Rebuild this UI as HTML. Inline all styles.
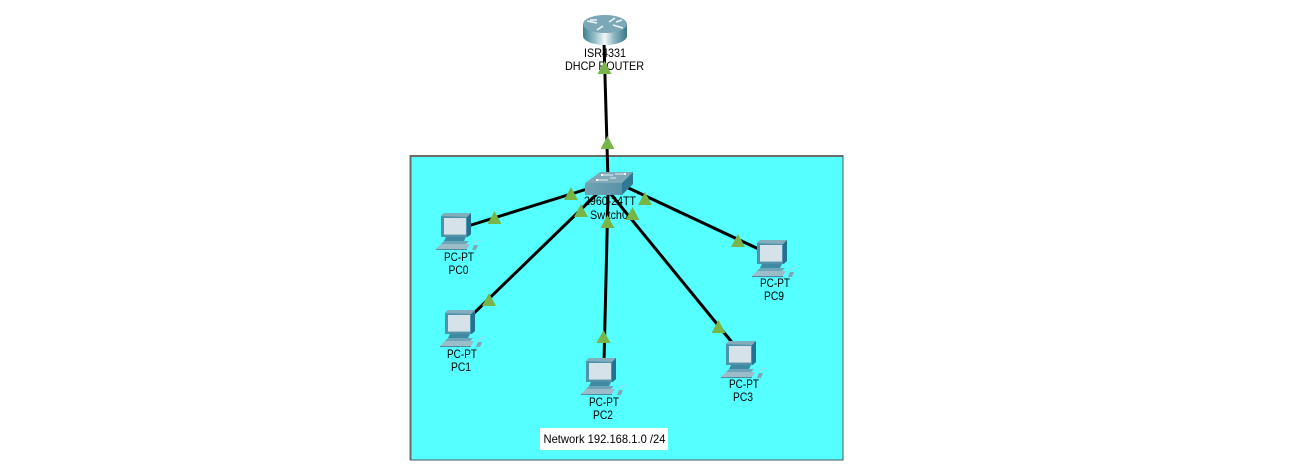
<!DOCTYPE html>
<html><head><meta charset="utf-8">
<style>
html,body{margin:0;padding:0;background:#fff;width:1306px;height:470px;overflow:hidden}
svg{display:block}
text{font-family:"Liberation Sans",sans-serif;font-size:12px;fill:#000;text-anchor:middle}
</style></head>
<body>
<svg width="1306" height="470" viewBox="0 0 1306 470" xmlns="http://www.w3.org/2000/svg">
<defs>
<linearGradient id="rb" x1="0" x2="1" y1="0" y2="0">
<stop offset="0" stop-color="#3f7f90"/><stop offset=".3" stop-color="#9fc6cf"/><stop offset=".5" stop-color="#f2f8f9"/><stop offset=".7" stop-color="#8db8c3"/><stop offset="1" stop-color="#3a7687"/>
</linearGradient>
<linearGradient id="sf" x1="0" x2="1" y1="0" y2="0">
<stop offset="0" stop-color="#6fa3b5"/><stop offset="1" stop-color="#5a92a6"/>
</linearGradient>
<g id="pc">
<polygon points="441,216 444,213 471,213 471,234 468,237 441,237" fill="#4f93ab"/>
<polygon points="467,217 471,213 471,234 467,237" fill="#1f7390"/>
<polygon points="441,216 444,213 471,213 467,217" fill="#82adbc"/>
<rect x="444" y="218" width="22" height="16" fill="#d6e2ea"/>
<rect x="444" y="234" width="22" height="1" fill="#9fc0cd"/>
<polygon points="446,237 466,237 464,241 444,241" fill="#3f8aa3"/>
<polygon points="444,241 469,241 466,244 441,244" fill="#6ea5b8"/>
<polygon points="441,244 470,244 467,249 436,249" fill="#9dbcc9"/>
<rect x="436" y="249" width="31" height="1" fill="#4f8b9f"/>
<polygon points="474,245 478,245 476,250 472,250" fill="#7ea7b6"/>
<path d="M474 244q2-3 7-4" fill="none" stroke="#9fd8e0" stroke-width="1"/>
</g>
</defs>
<rect x="410" y="155.500" width="433" height="304.500" fill="#55ffff"/>
<path d="M410.500 460V156H843" fill="none" stroke="#6b6b6b" stroke-width="2"/>
<path d="M843 155V460H410" fill="none" stroke="#4a5a5a" stroke-width="1"/>
<rect x="540" y="428" width="128" height="22" fill="#fff"/>
<text x="604.500" y="443" textLength="122" lengthAdjust="spacingAndGlyphs">Network 192.168.1.0 /24</text>

<text x="605" y="57" textLength="42" lengthAdjust="spacingAndGlyphs">ISR4331</text>
<text x="604.500" y="70" textLength="79" lengthAdjust="spacingAndGlyphs">DHCP ROUTER</text>
<text x="610" y="205" textLength="52" lengthAdjust="spacingAndGlyphs">2960-24TT</text>
<text x="609" y="219" textLength="38" lengthAdjust="spacingAndGlyphs">Switch0</text>
<text x="459" y="261" textLength="30" lengthAdjust="spacingAndGlyphs">PC-PT</text><text x="458.500" y="274" textLength="20" lengthAdjust="spacingAndGlyphs">PC0</text>
<text x="462" y="358" textLength="30" lengthAdjust="spacingAndGlyphs">PC-PT</text><text x="461" y="371" textLength="20" lengthAdjust="spacingAndGlyphs">PC1</text>
<text x="604" y="406" textLength="30" lengthAdjust="spacingAndGlyphs">PC-PT</text><text x="603" y="419" textLength="20" lengthAdjust="spacingAndGlyphs">PC2</text>
<text x="744" y="388" textLength="30" lengthAdjust="spacingAndGlyphs">PC-PT</text><text x="743" y="401" textLength="20" lengthAdjust="spacingAndGlyphs">PC3</text>
<text x="775" y="287" textLength="30" lengthAdjust="spacingAndGlyphs">PC-PT</text><text x="774" y="300" textLength="20" lengthAdjust="spacingAndGlyphs">PC9</text>

<g stroke="#000" stroke-width="3" fill="none">
<line x1="604" y1="42" x2="608" y2="180"/>
<line x1="468" y1="226" x2="600" y2="185"/>
<line x1="470" y1="317" x2="600" y2="191"/>
<line x1="604" y1="362" x2="608" y2="195"/>
<line x1="735" y1="346" x2="610" y2="193"/>
<line x1="765" y1="252" x2="622" y2="185"/>
</g>

<!-- router -->
<path d="M583 24V36C583 41 593 45 605 45S627 41 627 36V24Z" fill="url(#rb)"/>
<ellipse cx="605" cy="24" rx="22" ry="9" fill="#7ba7b7"/>
<path d="M587 21l10 2M613 25l10 3M609 22l6-4M603 26l-6 4M590 20h7M616 22l6-2" stroke="#eef6f8" stroke-width="1.600" fill="none"/>

<!-- switch -->
<polygon points="600,172 633,172 622,183 585,183" fill="#7fa9b9"/>
<polygon points="585,183 622,183 622,195 585,195" fill="url(#sf)"/>
<polygon points="622,183 633,172 633,184 622,195" fill="#2f7a92"/>
<path d="M603 175h10M615 174h10M598 180h10M610 178h6" stroke="#e4eff3" stroke-width="1" fill="none"/>
<rect x="601" y="174" width="2" height="2" fill="#fff"/><rect x="624" y="173" width="2" height="2" fill="#fff"/><rect x="596" y="179" width="2" height="2" fill="#fff"/>

<use href="#pc"/>
<use href="#pc" x="4" y="97"/>
<use href="#pc" x="145" y="145"/>
<use href="#pc" x="285" y="128"/>
<use href="#pc" x="316" y="27"/>

<g fill="#78b548">
<polygon points="604.500,61 611.500,74 597.500,74"/>
<polygon points="607.500,136 614.500,149 600.500,149"/>
<polygon points="571,187 578,200 564,200"/>
<polygon points="494.500,211 501.500,224 487.500,224"/>
<polygon points="581,204 588,217 574,217"/>
<polygon points="489,293 496,306 482,306"/>
<polygon points="607.500,215 614.500,228 600.500,228"/>
<polygon points="603.500,330 610.500,343 596.500,343"/>
<polygon points="632.500,207 639.500,220 625.500,220"/>
<polygon points="718.500,320 725.500,333 711.500,333"/>
<polygon points="645,192 652,205 638,205"/>
<polygon points="738,234 745,247 731,247"/>
</g>
</svg>
</body></html>
